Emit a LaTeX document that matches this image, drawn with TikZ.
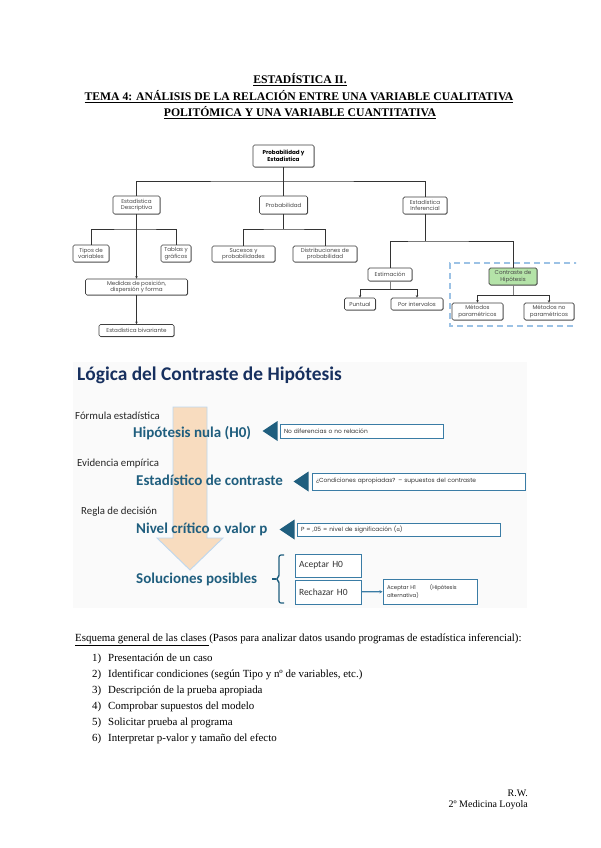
\documentclass[tikz,border=0pt]{standalone}
\usepackage{fontspec}
\setmainfont{Liberation Serif}
\newfontfamily\slidef{Carlito}
\newfontfamily\diaf{Poppins}
\usetikzlibrary{arrows.meta,shadows}
\definecolor{slideblue}{HTML}{1F5E7E}
\definecolor{navy}{HTML}{17305F}
\definecolor{boxblue}{HTML}{3A7CA5}
\definecolor{peach}{HTML}{F8DCBF}
\definecolor{arrowedge}{HTML}{BDD7EE}
\definecolor{greenbox}{HTML}{B4E3A8}
\definecolor{dashblue}{HTML}{9CC2E5}
\begin{document}
\begin{tikzpicture}[x=1pt,y=-1pt,
  titlef/.style={font=\fontsize{11.7}{13}\bfseries, inner sep=0},
  bodyf/.style={font=\fontsize{10.9}{12}\selectfont, inner sep=0, anchor=base west},
  tbox/.style={draw=black!75, line width=0.7pt, rounded corners=1.5pt, fill=white,
    inner sep=0, align=center, text=black!72, font=\diaf\fontsize{5.6}{6.4}\selectfont,
    drop shadow={shadow xshift=0.6pt, shadow yshift=-0.6pt, opacity=0.7, fill=black!70}},
  tline/.style={draw=black!80, line width=0.8pt},
  tarr/.style={tline, -{Stealth[length=2.5pt,width=2.5pt]}},
  glabel/.style={font=\slidef\fontsize{10.8}{12}\selectfont, text=black!85, inner sep=0, anchor=west},
  blabel/.style={font=\slidef\bfseries\fontsize{15}{17}\selectfont, text=slideblue, inner sep=0, anchor=west},
  sbox/.style={draw=boxblue, line width=0.8pt, fill=white, inner sep=0, inner xsep=4pt,
    text=black!80, font=\diaf\fontsize{5.9}{6.9}\selectfont, align=left},
  abox/.style={draw=boxblue, line width=1pt, fill=white, inner sep=0, inner xsep=4pt,
    text=black!80, font=\slidef\fontsize{9.5}{10}\selectfont, text width=58pt, align=left},
  tri/.style={fill=slideblue}
]
\useasboundingbox (0,0) rectangle (600,848);
\fill[white] (0,0) rectangle (600,848);

% ---------- Title ----------
\node[titlef, anchor=base] (t1) at (300,84) {\underline{ESTADÍSTICA II.}};
\node[titlef, anchor=base] (t2) at (299,101) {\underline{TEMA 4: ANÁLISIS DE LA RELACIÓN ENTRE UNA VARIABLE CUALITATIVA}};
\node[titlef, anchor=base] (t3) at (300,117) {\underline{POLITÓMICA Y UNA VARIABLE CUANTITATIVA}};

% ---------- Concept map ----------
\begin{scope}
\clip (60,135) rectangle (576,345);
\draw[dashblue, line width=1.4pt, dash pattern=on 6pt off 4pt] (590,263) -- (450,263) -- (450,326) -- (590,326);
\node[tbox, minimum width=61pt, minimum height=22pt, text=black, font=\diaf\bfseries\fontsize{5.6}{6.8}\selectfont] (root) at (283.5,156) {Probabilidad y\\Estadística};
\node[tbox, minimum width=47pt, minimum height=18pt] (desc) at (136.5,205) {Estadística\\Descriptiva};
\node[tbox, minimum width=48pt, minimum height=18pt] (prob) at (283.5,205) {Probabilidad};
\node[tbox, minimum width=44pt, minimum height=17pt] (infer) at (425,205.5) {Estadística\\Inferencial};
\node[tbox, minimum width=36pt, minimum height=17pt] (tipos) at (91,253.5) {Tipos de\\variables};
\node[tbox, minimum width=30pt, minimum height=17pt] (tablas) at (176,253.5) {Tablas y\\gráficos};
\node[tbox, minimum width=102pt, minimum height=16pt] (medidas) at (136.5,287) {Medidas de posición,\\dispersión y forma};
\node[tbox, minimum width=75pt, minimum height=12pt] (biv) at (136.5,330.5) {Estadística bivariante};
\node[tbox, minimum width=63pt, minimum height=16pt] (sucesos) at (243.5,254) {Sucesos y\\probabilidades};
\node[tbox, minimum width=64pt, minimum height=16pt] (distrib) at (325,254) {Distribuciones de\\probabilidad};
\node[tbox, minimum width=44pt, minimum height=13pt] (estim) at (390,274.5) {Estimación};
\node[tbox, minimum width=48pt, minimum height=17pt, fill=greenbox] (contr) at (513,276.5) {Contraste de\\Hipótesis};
\node[tbox, minimum width=31pt, minimum height=12pt] (puntual) at (360,304) {Puntual};
\node[tbox, minimum width=52pt, minimum height=12pt] (interv) at (417,304) {Por intervalos};
\node[tbox, minimum width=51pt, minimum height=17pt] (param) at (477.5,311.5) {Métodos\\paramétricos};
\node[tbox, minimum width=50pt, minimum height=17pt] (noparam) at (549,311.5) {Métodos no\\paramétricos};

\coordinate (b1) at (283.5,181);
\coordinate (b2) at (136.5,229);
\coordinate (b3) at (283.5,229);
\coordinate (b4) at (425,241);
\coordinate (b5) at (390,289);
\coordinate (b6) at (513,295);
\draw[tline] (root) -- (prob);
\draw[tline] (desc.north) |- (b1) -| (infer.north);
\draw[tarr] (desc.south) -- (medidas.north);
\draw[tline] (tipos.north) |- (b2) -| (tablas.north);
\draw[tarr] (medidas.south) -- (biv.north);
\draw[tline] (prob.south) -- (b3);
\draw[tline] (sucesos.north) |- (b3) -| (distrib.north);
\draw[tline] (infer.south) -- (b4);
\draw[tline] (estim.north) |- (b4) -| (contr.north);
\draw[tline, black!50] (estim.south) -- (b5);
\draw[tarr] (b5) -| (puntual.north);
\draw[tarr] (b5) -| (interv.north);
\draw[tline, black!50] (contr.south) -- (b6);
\draw[tarr] (b6) -| (param.north);
\draw[tarr] (b6) -| (noparam.north);
\end{scope}

% ---------- Slide ----------
\fill[black!2] (73,362) rectangle (527,608);
\node[font=\slidef\bfseries\fontsize{19.4}{23}\selectfont, text=navy, inner sep=0, anchor=base west] (stitle) at (77,380) {Lógica del Contraste de Hipótesis};

\path[fill=peach, draw=arrowedge, line width=0.9pt]
  (173,407) -- (207,407) -- (207,538) -- (223,538) -- (190,570) -- (157,538) -- (173,538) -- cycle;

\node[glabel] (g1) at (75,416) {Fórmula estadística};
\node[glabel] (g2) at (77,464) {Evidencia empírica};
\node[glabel] (g3) at (81,512) {Regla de decisión};

\node[blabel] (h0) at (133,433) {Hipótesis nula (H0)};
\node[blabel] (est) at (136,480) {Estadístico de contraste};
\node[blabel] (niv) at (136,529) {Nivel crítico o valor p};
\node[blabel] (sol) at (136,579) {Soluciones posibles};

\node[sbox, minimum width=163pt, minimum height=14pt, text width=155pt] (n1) at (361.5,431) {No diferencias o no relación};
\node[sbox, minimum width=213pt, minimum height=17pt, text width=205pt] (n2) at (418.5,481.5) {¿Condiciones apropiadas? – supuestos del contraste};
\node[sbox, minimum width=203pt, minimum height=13pt, text width=195pt] (n3) at (398.5,529.5) {P = ,05 = nivel de significación ({\slidef α})};

\fill[tri] ([xshift=-2pt]n1.west) -- ++(0,-10) -- ++(-15,10) -- ++(15,10) -- cycle;
\fill[tri] ([xshift=-3pt]n2.west) -- ++(0,-10) -- ++(-15,10) -- ++(15,10) -- cycle;
\fill[tri] ([xshift=-2pt]n3.west) -- ++(0,-10) -- ++(-15,10) -- ++(15,10) -- cycle;

\node[abox, minimum width=66pt, minimum height=23pt] (acc0) at (328,565.5) {Aceptar H0};
\node[abox, minimum width=66pt, minimum height=24pt] (rech0) at (328,592) {Rechazar H0};
\node[sbox, line width=1pt, minimum width=94pt, minimum height=25pt, text width=86pt,
      font=\diaf\fontsize{5.4}{6.4}\selectfont] (acc1) at (430,591.5) {Aceptar H1\hspace{14pt}(Hipótesis\\alternativa)};
\draw[boxblue, line width=1.2pt, -{Stealth[length=3pt,width=3pt]}] (rech0) -- (acc1);

\coordinate (brtop) at (284,555);
\coordinate (brbot) at (284,603);
\draw[slideblue, line width=1.2pt, rounded corners=2pt]
  (brtop) -- (279,555) -- (279,577) -- (276,579) -- (279,581) -- (279,603) -- (brbot);
\draw[slideblue, line width=1.2pt] (276,579) -- (272,579);

% ---------- Text ----------
\node[bodyf] (esq) at (75,641) {\underline{Esquema general de las clases }(Pasos para analizar datos usando programas de estadística inferencial):};
\foreach \i/\t [count=\k from 0] in {1/Presentación de un caso,
  2/Identificar condiciones (según Tipo y nº de variables\hbox{,} etc.),
  3/Descripción de la prueba apropiada,
  4/Comprobar supuestos del modelo,
  5/Solicitar prueba al programa,
  6/Interpretar p-valor y tamaño del efecto}{
  \node[bodyf] (num\i) at (92,661+16*\k) {\i)};
  \node[bodyf] (item\i) at (108,661+16*\k) {\t};
}
\node[font=\fontsize{10}{12}\selectfont, inner sep=0, anchor=base east] (rw) at (528,796) {R.W.};
\node[font=\fontsize{10}{12}\selectfont, inner sep=0, anchor=base east] (med) at (528,807) {2º Medicina Loyola};
\end{tikzpicture}
\end{document}
